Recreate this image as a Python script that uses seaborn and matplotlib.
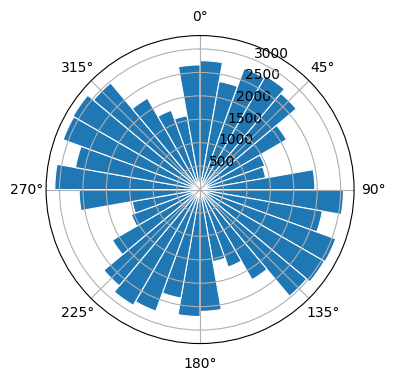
import numpy as np
import pandas as pd
import matplotlib
matplotlib.use("Agg")
import matplotlib.pyplot as plt
import seaborn as sns

# 10 degree direction bins (start of each bin) and the counts in them
bin_start = [0, 10, 20, 30, 40, 50, 60, 70, 80,
             90, 100, 110, 120, 130, 140, 150, 160, 170,
             180, 190, 200, 210, 220, 230, 240, 250, 260,
             270, 280, 290, 300, 310, 320, 330, 340, 350]
counts = [2750, 2340, 2750, 2800, 2680, 2130, 1470, 1420, 2450,
          3060, 2650, 3080, 3060, 2970, 2220, 1760, 1560, 2600,
          2710, 2350, 2760, 2850, 2680, 2160, 1560, 1470, 2580,
          3100, 2700, 3110, 3130, 2970, 2250, 1800, 1600, 2660]

df = pd.DataFrame({'theta': np.deg2rad(np.array(bin_start) + 5), 'count': counts})

fig = plt.figure(figsize=(4, 4))
ax = fig.add_subplot(projection='polar')
ax.set_theta_zero_location('N')
ax.set_theta_direction(-1)

sns.barplot(data=df, x='theta', y='count', native_scale=True, width=1,
            color=sns.color_palette('tab10')[0], saturation=1, errorbar=None,
            edgecolor='white', linewidth=0.8, ax=ax)
ax.set_xlabel('')
ax.set_ylabel('')

plt.savefig('out.png', dpi=100, bbox_inches='tight')
